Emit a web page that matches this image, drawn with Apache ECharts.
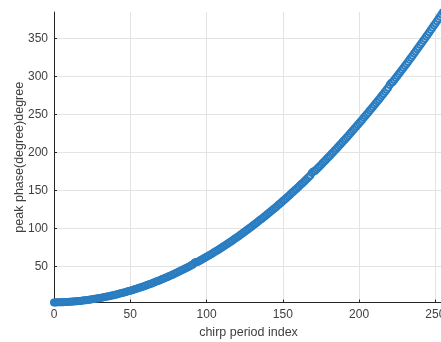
<!DOCTYPE html>
<html>
<head>
<meta charset="utf-8">
<script src="https://cdn.jsdelivr.net/npm/echarts@6/dist/echarts.min.js"></script>
<style>
html,body{margin:0;padding:0;background:#fff;}
#chart{width:441px;height:342px;}
</style>
</head>
<body>
<div id="chart"></div>
<script>
// chirp period index 0..255 (x values)
var chirpIndex = [];
for (var i = 0; i < 256; i++) chirpIndex.push(i);

// peak phase (degree), one value per chirp index
var peakPhase = [
2.5,2.5,2.6,2.6,2.7,2.7,2.8,2.9,3.0,3.2,
3.3,3.4,3.6,3.7,3.9,4.1,4.3,4.5,4.7,5.0,
5.2,5.5,5.7,6.0,6.3,6.6,6.9,7.3,7.6,8.0,
8.3,8.7,9.1,9.5,9.9,10.3,10.7,11.2,11.6,12.1,
12.6,13.1,13.6,14.1,14.6,15.1,15.7,16.3,16.8,17.4,
18.0,18.6,19.2,19.9,20.5,21.1,21.8,22.5,23.2,23.9,
24.6,25.3,26.0,26.8,27.5,28.3,29.1,29.9,30.7,31.5,
32.3,33.2,34.0,34.9,35.7,36.6,37.5,38.4,39.3,40.3,
41.2,42.2,43.1,44.1,45.1,46.1,47.1,48.1,49.2,50.2,
51.3,52.4,54.3,55.8,55.6,56.7,57.9,59.0,60.2,61.3,
62.5,63.7,64.9,66.1,67.3,68.5,69.8,71.0,72.3,73.6,
74.9,76.2,77.5,78.8,80.2,81.5,82.9,84.2,85.6,87.0,
88.4,89.8,91.3,92.7,94.2,95.6,97.1,98.6,100.1,101.6,
103.1,104.7,106.2,107.8,109.3,110.9,112.5,114.1,115.7,117.3,
119.0,120.6,122.3,124.0,125.6,127.3,129.0,130.8,132.5,134.2,
136.0,137.8,139.5,141.3,143.1,144.9,146.8,148.6,150.5,152.3,
154.2,156.1,158.0,159.9,161.8,163.7,165.6,167.6,169.6,172.8,
174.8,175.5,177.5,179.6,181.6,183.6,185.7,187.7,189.8,191.9,
194.0,196.1,198.3,200.4,202.5,204.7,206.9,209.1,211.3,213.5,
215.7,217.9,220.2,222.4,224.7,226.9,229.2,231.5,233.8,236.2,
238.5,240.8,243.2,245.6,248.0,250.3,252.7,255.2,257.6,260.0,
262.5,264.9,267.4,269.9,272.4,274.9,277.4,280.0,282.5,285.1,
288.9,291.5,292.8,295.4,298.0,300.6,303.3,305.9,308.6,311.2,
313.9,316.6,319.3,322.0,324.8,327.5,330.3,333.0,335.8,338.6,
341.4,344.2,347.0,349.8,352.7,355.5,358.4,361.3,364.2,367.1,
370.0,372.9,375.9,378.8,381.8,384.7
];

var xTicks = [0, 50, 100, 150, 200, 250];
var yTicks = [50, 100, 150, 200, 250, 300, 350];

var points = chirpIndex.map(function (x, k) { return [x, peakPhase[k]]; });

var axisColor = '#262626';
var labelColor = '#404040';
var gridColor = '#e3e3e3';
var fontFam = 'Liberation Sans, Arial, Helvetica, sans-serif';

var chart = echarts.init(document.getElementById('chart'), null, {renderer: 'canvas'});
chart.setOption({
  animation: false,
  backgroundColor: '#ffffff',
  grid: {left: 54, top: 12, width: 389, height: 290.5, containLabel: false, outerBoundsMode: 'none'},
  xAxis: {
    type: 'value',
    min: 0,
    max: 255,
    interval: 50,
    name: 'chirp period index',
    nameLocation: 'middle',
    nameGap: 23.5,
    nameMoveOverlap: false,
    nameTextStyle: {color: labelColor, fontSize: 12.5, fontFamily: fontFam},
    axisLine: {show: true, lineStyle: {color: axisColor, width: 1}},
    axisTick: {show: true, inside: true, length: 3, lineStyle: {color: axisColor}, customValues: xTicks},
    axisLabel: {color: labelColor, fontSize: 12, fontFamily: fontFam, margin: 6, customValues: xTicks},
    splitLine: {show: true, lineStyle: {color: gridColor, width: 1}}
  },
  yAxis: {
    type: 'value',
    min: 2.4,
    max: 385,
    name: 'peak phase(degree)degree',
    nameLocation: 'middle',
    nameGap: 28,
    nameMoveOverlap: false,
    nameTextStyle: {color: labelColor, fontSize: 12.5, fontFamily: fontFam},
    axisLine: {show: true, lineStyle: {color: axisColor, width: 1}},
    axisTick: {show: true, inside: true, length: 3, lineStyle: {color: axisColor}, customValues: yTicks},
    axisLabel: {color: labelColor, fontSize: 12, fontFamily: fontFam, margin: 6, customValues: yTicks},
    splitLine: {show: true, lineStyle: {color: gridColor, width: 1}}
  },
  series: [{
    type: 'line',
    data: points,
    symbol: 'emptyCircle',
    symbolSize: 6,
    showSymbol: true,
    showAllSymbol: true,
    clip: false,
    lineStyle: {color: '#2a7dc0', width: 0.5},
    itemStyle: {color: '#2a7dc0', borderColor: '#2a7dc0', borderWidth: 0.9},
    emphasis: {disabled: true}
  }]
});
</script>
</body>
</html>
